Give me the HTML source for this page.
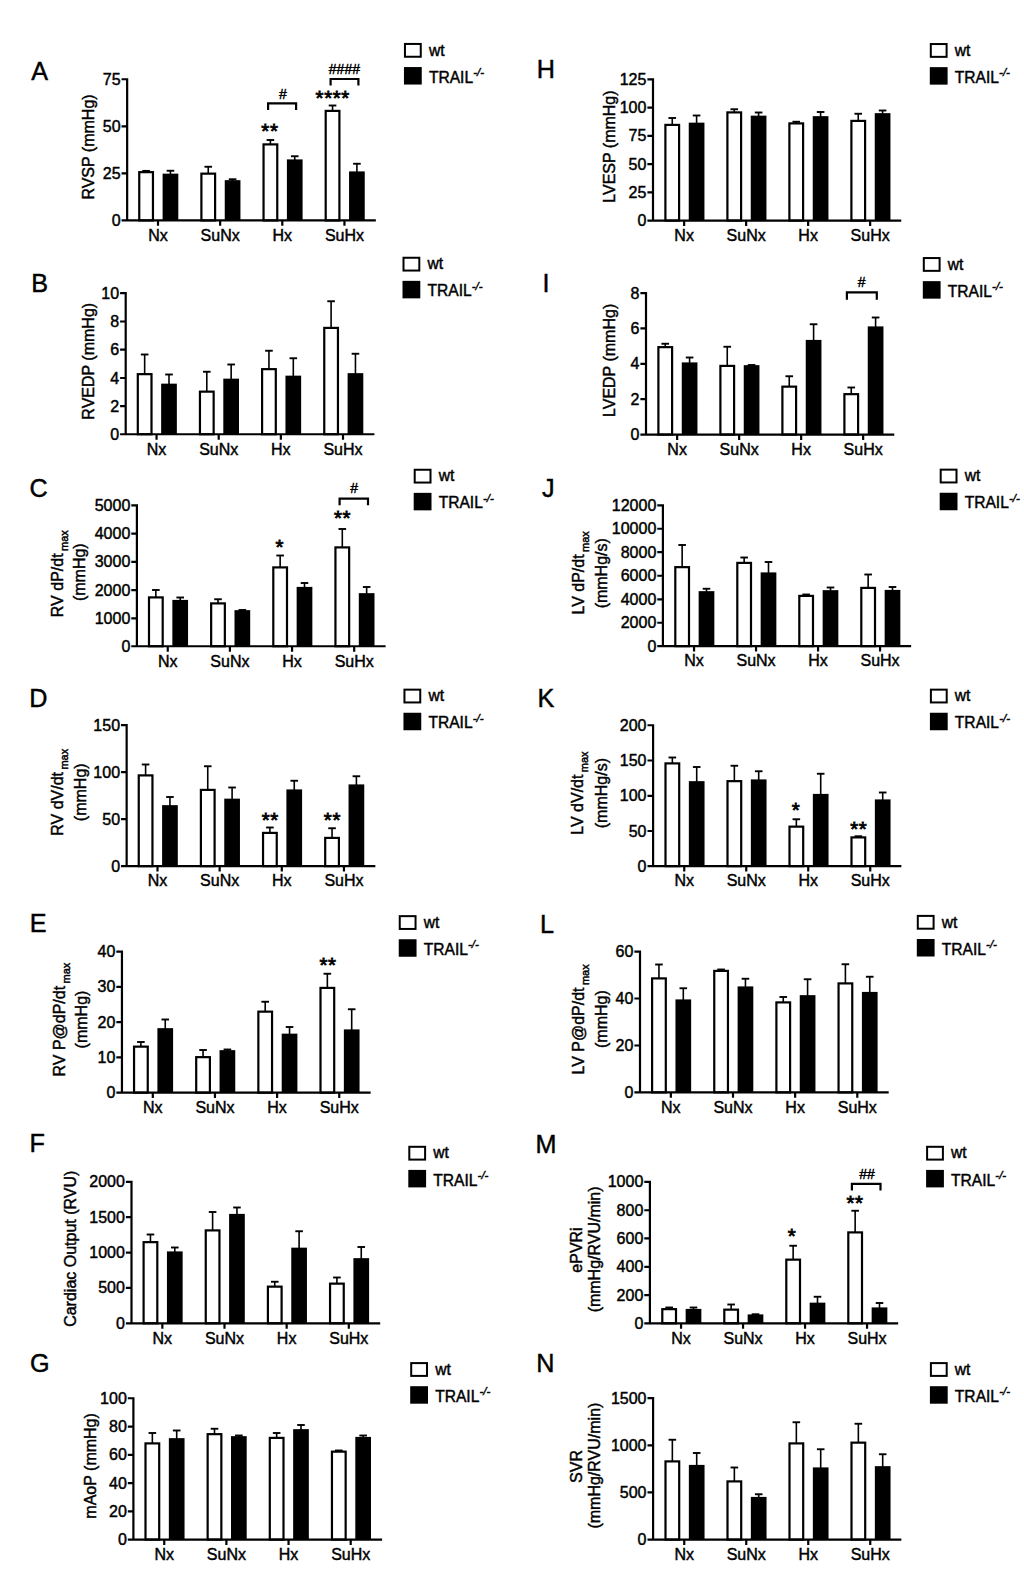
<!DOCTYPE html>
<html lang="en">
<head>
<meta charset="utf-8">
<title>Haemodynamic measurements: wt vs TRAIL-/- mice (panels A-N)</title>
<style>
html,body{margin:0;padding:0;background:#fff;}
body{width:1024px;height:1583px;overflow:hidden;}
svg{display:block;font-family:"Liberation Sans",sans-serif;fill:#000;}
svg text{font-size:16.0px;fill:#000;stroke:#000;stroke-width:0.45px;letter-spacing:0;}
.pl{font-size:25.2px;text-anchor:middle;letter-spacing:0;}
.yt{text-anchor:end;}
.xt{text-anchor:middle;}
.yl{text-anchor:middle;}
.lt{font-size:15.6px;}
.sub{font-size:11.0px;}
.sup{font-size:11.5px;font-style:italic;}
.st{font-size:20.5px;text-anchor:middle;letter-spacing:0.6px;stroke-width:0.8px !important;}
.hs{font-size:14.0px;text-anchor:middle;stroke-width:0.45px !important;}
.ax{fill:none;stroke:#000;stroke-width:2.2;}
.br{fill:none;stroke:#000;stroke-width:2.2;}
.eb{fill:none;stroke:#000;stroke-width:1.9;}
.es{fill:none;stroke:#000;stroke-width:1.6;}
.wb{fill:#fff;stroke:#000;stroke-width:2.2;}
.lg{stroke-width:2;}
.bb{fill:#000;stroke:none;}
</style>
</head>
<body>
<svg width="1024" height="1583" viewBox="0 0 1024 1583" role="img" aria-label="Bar charts A to N comparing wt and TRAIL knockout mice">
<rect x="0" y="0" width="1024" height="1583" fill="#fff" stroke="none"/>
<g class="panel" id="panel-A">
<text class="pl" x="39.7" y="80">A</text>
<path class="es" d="M146.1 172.75V170.9"/><path class="eb" d="M142.3 170.9H149.9"/>
<path class="es" d="M170.45 175.25V170.75"/><path class="eb" d="M166.65 170.75H174.25"/>
<rect class="wb" x="139.25" y="172.15" width="13.7" height="48.3"/>
<rect class="bb" x="162.6" y="173.65" width="15.7" height="46.8"/>
<path class="es" d="M208.25 174.25V166.75"/><path class="eb" d="M204.45 166.75H212.05"/>
<path class="es" d="M232.6 181.75V179.25"/><path class="eb" d="M228.8 179.25H236.4"/>
<rect class="wb" x="201.4" y="173.65" width="13.7" height="46.8"/>
<rect class="bb" x="224.75" y="180.15" width="15.7" height="40.3"/>
<path class="es" d="M270.4 145V140"/><path class="eb" d="M266.6 140H274.2"/>
<path class="es" d="M294.75 161V156.25"/><path class="eb" d="M290.95 156.25H298.55"/>
<rect class="wb" x="263.55" y="144.4" width="13.7" height="76.05"/>
<rect class="bb" x="286.9" y="159.4" width="15.7" height="61.05"/>
<path class="es" d="M332.55 111.5V105.5"/><path class="eb" d="M328.75 105.5H336.35"/>
<path class="es" d="M356.9 173V163.75"/><path class="eb" d="M353.1 163.75H360.7"/>
<rect class="wb" x="325.7" y="110.9" width="13.7" height="109.55"/>
<rect class="bb" x="349.05" y="171.4" width="15.7" height="49.05"/>
<path class="ax" d="M127.15 78.15V221.55M126.05 220.45H375.85M121.55 79.25H127.15M121.55 126.3H127.15M121.55 173.4H127.15M121.55 220.45H127.15M158 220.45V225.85M220.15 220.45V225.85M282.3 220.45V225.85M344.45 220.45V225.85"/>
<text class="yt" x="120.55" y="84.75">75</text>
<text class="yt" x="120.55" y="131.8">50</text>
<text class="yt" x="120.55" y="178.9">25</text>
<text class="yt" x="120.55" y="225.95">0</text>
<text class="xt" x="158" y="240.75">Nx</text>
<text class="xt" x="220.15" y="240.75">SuNx</text>
<text class="xt" x="282.3" y="240.75">Hx</text>
<text class="xt" x="344.45" y="240.75">SuHx</text>
<text class="yl" transform="translate(93.75 147) rotate(-90)">RVSP (mmHg)</text>
<rect class="wb lg" x="404.95" y="43.95" width="15.8" height="12.8"/>
<rect class="bb" x="403.95" y="67.05" width="17.8" height="17.5"/>
<text class="lt" x="428.9" y="55.55">wt</text>
<text class="lt" x="428.9" y="82.65">TRAIL<tspan class="sup" dx="0.1" dy="-6.6">-/-</tspan></text>
<text class="st" x="269.9" y="138">**</text>
<path class="br" d="M268.1 110V103.4H296.1V110"/>
<text class="hs" x="283" y="98.75">#</text>
<text class="st" x="332.75" y="105.4">****</text>
<path class="br" d="M330.6 85.6V79H358.4V85.6"/>
<text class="hs" x="344.4" y="73.75">####</text>
</g>
<g class="panel" id="panel-B">
<text class="pl" x="39.63" y="292">B</text>
<path class="es" d="M144.65 374.75V354.5"/><path class="eb" d="M140.85 354.5H148.45"/>
<path class="es" d="M169 385.25V374.5"/><path class="eb" d="M165.2 374.5H172.8"/>
<rect class="wb" x="137.8" y="374.15" width="13.7" height="60.1"/>
<rect class="bb" x="161.15" y="383.65" width="15.7" height="50.6"/>
<path class="es" d="M206.8 392.25V371.75"/><path class="eb" d="M203 371.75H210.6"/>
<path class="es" d="M231.15 380.25V364.5"/><path class="eb" d="M227.35 364.5H234.95"/>
<rect class="wb" x="199.95" y="391.65" width="13.7" height="42.6"/>
<rect class="bb" x="223.3" y="378.65" width="15.7" height="55.6"/>
<path class="es" d="M268.95 369.75V350.75"/><path class="eb" d="M265.15 350.75H272.75"/>
<path class="es" d="M293.3 377.25V358.25"/><path class="eb" d="M289.5 358.25H297.1"/>
<rect class="wb" x="262.1" y="369.15" width="13.7" height="65.1"/>
<rect class="bb" x="285.45" y="375.65" width="15.7" height="58.6"/>
<path class="es" d="M331.1 328.5V301.25"/><path class="eb" d="M327.3 301.25H334.9"/>
<path class="es" d="M355.45 374.75V353.75"/><path class="eb" d="M351.65 353.75H359.25"/>
<rect class="wb" x="324.25" y="327.9" width="13.7" height="106.35"/>
<rect class="bb" x="347.6" y="373.15" width="15.7" height="61.1"/>
<path class="ax" d="M125.7 292V435.35M124.6 434.25H374.4M120.1 293.1H125.7M120.1 321.5H125.7M120.1 349.7H125.7M120.1 378H125.7M120.1 406.2H125.7M120.1 434.25H125.7M156.55 434.25V439.65M218.7 434.25V439.65M280.85 434.25V439.65M343 434.25V439.65"/>
<text class="yt" x="119.1" y="298.6">10</text>
<text class="yt" x="119.1" y="327">8</text>
<text class="yt" x="119.1" y="355.2">6</text>
<text class="yt" x="119.1" y="383.5">4</text>
<text class="yt" x="119.1" y="411.7">2</text>
<text class="yt" x="119.1" y="439.75">0</text>
<text class="xt" x="156.55" y="454.55">Nx</text>
<text class="xt" x="218.7" y="454.55">SuNx</text>
<text class="xt" x="280.85" y="454.55">Hx</text>
<text class="xt" x="343" y="454.55">SuHx</text>
<text class="yl" transform="translate(93.5 361.25) rotate(-90)">RVEDP (mmHg)</text>
<rect class="wb lg" x="403.5" y="257.75" width="15.8" height="12.8"/>
<rect class="bb" x="402.5" y="280.85" width="17.8" height="17.5"/>
<text class="lt" x="427.45" y="269.35">wt</text>
<text class="lt" x="427.45" y="296.45">TRAIL<tspan class="sup" dx="0.1" dy="-6.6">-/-</tspan></text>
</g>
<g class="panel" id="panel-C">
<text class="pl" x="38.59" y="497">C</text>
<path class="es" d="M155.85 598V590"/><path class="eb" d="M152.05 590H159.65"/>
<path class="es" d="M180.2 601.5V597.5"/><path class="eb" d="M176.4 597.5H184"/>
<rect class="wb" x="149" y="597.4" width="13.7" height="48.85"/>
<rect class="bb" x="172.35" y="599.9" width="15.7" height="46.35"/>
<path class="es" d="M218 604V599.25"/><path class="eb" d="M214.2 599.25H221.8"/>
<path class="es" d="M242.35 611.75V610"/><path class="eb" d="M238.55 610H246.15"/>
<rect class="wb" x="211.15" y="603.4" width="13.7" height="42.85"/>
<rect class="bb" x="234.5" y="610.15" width="15.7" height="36.1"/>
<path class="es" d="M280.15 568V555.5"/><path class="eb" d="M276.35 555.5H283.95"/>
<path class="es" d="M304.5 588.5V583"/><path class="eb" d="M300.7 583H308.3"/>
<rect class="wb" x="273.3" y="567.4" width="13.7" height="78.85"/>
<rect class="bb" x="296.65" y="586.9" width="15.7" height="59.35"/>
<path class="es" d="M342.3 548V529"/><path class="eb" d="M338.5 529H346.1"/>
<path class="es" d="M366.65 594.75V587"/><path class="eb" d="M362.85 587H370.45"/>
<rect class="wb" x="335.45" y="547.4" width="13.7" height="98.85"/>
<rect class="bb" x="358.8" y="593.15" width="15.7" height="53.1"/>
<path class="ax" d="M136.9 504.25V647.35M135.8 646.25H385.6M131.3 505.35H136.9M131.3 533.7H136.9M131.3 561.9H136.9M131.3 590.2H136.9M131.3 618.35H136.9M131.3 646.25H136.9M167.75 646.25V651.65M229.9 646.25V651.65M292.05 646.25V651.65M354.2 646.25V651.65"/>
<text class="yt" x="130.3" y="510.85">5000</text>
<text class="yt" x="130.3" y="539.2">4000</text>
<text class="yt" x="130.3" y="567.4">3000</text>
<text class="yt" x="130.3" y="595.7">2000</text>
<text class="yt" x="130.3" y="623.85">1000</text>
<text class="yt" x="130.3" y="651.75">0</text>
<text class="xt" x="167.75" y="666.55">Nx</text>
<text class="xt" x="229.9" y="666.55">SuNx</text>
<text class="xt" x="292.05" y="666.55">Hx</text>
<text class="xt" x="354.2" y="666.55">SuHx</text>
<text class="yl" transform="translate(63.1 573.7) rotate(-90)">RV dP/dt<tspan class="sub" dx="2.4" dy="5">max</tspan></text>
<text class="yl" transform="translate(85 572.2) rotate(-90)">(mmHg)</text>
<rect class="wb lg" x="414.7" y="469.75" width="15.8" height="12.8"/>
<rect class="bb" x="413.7" y="492.85" width="17.8" height="17.5"/>
<text class="lt" x="438.65" y="481.35">wt</text>
<text class="lt" x="438.65" y="508.45">TRAIL<tspan class="sup" dx="0.1" dy="-6.6">-/-</tspan></text>
<text class="st" x="279.8" y="554.4">*</text>
<text class="st" x="342.6" y="524.75">**</text>
<path class="br" d="M339.6 505.2V498.7H368V505.2"/>
<text class="hs" x="354.1" y="493.4">#</text>
</g>
<g class="panel" id="panel-D">
<text class="pl" x="38.32" y="707">D</text>
<path class="es" d="M145.6 776V764.5"/><path class="eb" d="M141.8 764.5H149.4"/>
<path class="es" d="M169.95 806.75V797"/><path class="eb" d="M166.15 797H173.75"/>
<rect class="wb" x="138.75" y="775.4" width="13.7" height="90.75"/>
<rect class="bb" x="162.1" y="805.15" width="15.7" height="61"/>
<path class="es" d="M207.75 790.5V766.25"/><path class="eb" d="M203.95 766.25H211.55"/>
<path class="es" d="M232.1 800.25V787.5"/><path class="eb" d="M228.3 787.5H235.9"/>
<rect class="wb" x="200.9" y="789.9" width="13.7" height="76.25"/>
<rect class="bb" x="224.25" y="798.65" width="15.7" height="67.5"/>
<path class="es" d="M269.9 833.5V827.5"/><path class="eb" d="M266.1 827.5H273.7"/>
<path class="es" d="M294.25 791V780.75"/><path class="eb" d="M290.45 780.75H298.05"/>
<rect class="wb" x="263.05" y="832.9" width="13.7" height="33.25"/>
<rect class="bb" x="286.4" y="789.4" width="15.7" height="76.75"/>
<path class="es" d="M332.05 838.5V828.25"/><path class="eb" d="M328.25 828.25H335.85"/>
<path class="es" d="M356.4 786V776.25"/><path class="eb" d="M352.6 776.25H360.2"/>
<rect class="wb" x="325.2" y="837.9" width="13.7" height="28.25"/>
<rect class="bb" x="348.55" y="784.4" width="15.7" height="81.75"/>
<path class="ax" d="M126.65 724.1V867.25M125.55 866.15H375.35M121.05 725.2H126.65M121.05 772.2H126.65M121.05 819.15H126.65M121.05 866.15H126.65M157.5 866.15V871.55M219.65 866.15V871.55M281.8 866.15V871.55M343.95 866.15V871.55"/>
<text class="yt" x="120.05" y="730.7">150</text>
<text class="yt" x="120.05" y="777.7">100</text>
<text class="yt" x="120.05" y="824.65">50</text>
<text class="yt" x="120.05" y="871.65">0</text>
<text class="xt" x="157.5" y="886.45">Nx</text>
<text class="xt" x="219.65" y="886.45">SuNx</text>
<text class="xt" x="281.8" y="886.45">Hx</text>
<text class="xt" x="343.95" y="886.45">SuHx</text>
<text class="yl" transform="translate(62.5 792.25) rotate(-90)">RV dV/dt<tspan class="sub" dx="2.4" dy="5">max</tspan></text>
<text class="yl" transform="translate(86 792.25) rotate(-90)">(mmHg)</text>
<rect class="wb lg" x="404.45" y="689.65" width="15.8" height="12.8"/>
<rect class="bb" x="403.45" y="712.75" width="17.8" height="17.5"/>
<text class="lt" x="428.4" y="701.25">wt</text>
<text class="lt" x="428.4" y="728.35">TRAIL<tspan class="sup" dx="0.1" dy="-6.6">-/-</tspan></text>
<text class="st" x="270.25" y="826.9">**</text>
<text class="st" x="332.4" y="826.9">**</text>
</g>
<g class="panel" id="panel-E">
<text class="pl" x="38.11" y="931.75">E</text>
<path class="es" d="M140.9 1047.25V1042"/><path class="eb" d="M137.1 1042H144.7"/>
<path class="es" d="M165.25 1029.75V1019.5"/><path class="eb" d="M161.45 1019.5H169.05"/>
<rect class="wb" x="134.05" y="1046.65" width="13.7" height="46"/>
<rect class="bb" x="157.4" y="1028.15" width="15.7" height="64.5"/>
<path class="es" d="M203.05 1057.75V1050"/><path class="eb" d="M199.25 1050H206.85"/>
<path class="es" d="M227.4 1051.75V1049.5"/><path class="eb" d="M223.6 1049.5H231.2"/>
<rect class="wb" x="196.2" y="1057.15" width="13.7" height="35.5"/>
<rect class="bb" x="219.55" y="1050.15" width="15.7" height="42.5"/>
<path class="es" d="M265.2 1012.25V1001.75"/><path class="eb" d="M261.4 1001.75H269"/>
<path class="es" d="M289.55 1035.25V1027"/><path class="eb" d="M285.75 1027H293.35"/>
<rect class="wb" x="258.35" y="1011.65" width="13.7" height="81"/>
<rect class="bb" x="281.7" y="1033.65" width="15.7" height="59"/>
<path class="es" d="M327.35 988.5V973.75"/><path class="eb" d="M323.55 973.75H331.15"/>
<path class="es" d="M351.7 1031V1009.25"/><path class="eb" d="M347.9 1009.25H355.5"/>
<rect class="wb" x="320.5" y="987.9" width="13.7" height="104.75"/>
<rect class="bb" x="343.85" y="1029.4" width="15.7" height="63.25"/>
<path class="ax" d="M121.95 950.45V1093.75M120.85 1092.65H370.65M116.35 951.55H121.95M116.35 986.9H121.95M116.35 1022.15H121.95M116.35 1057.4H121.95M116.35 1092.65H121.95M152.8 1092.65V1098.05M214.95 1092.65V1098.05M277.1 1092.65V1098.05M339.25 1092.65V1098.05"/>
<text class="yt" x="115.35" y="957.05">40</text>
<text class="yt" x="115.35" y="992.4">30</text>
<text class="yt" x="115.35" y="1027.65">20</text>
<text class="yt" x="115.35" y="1062.9">10</text>
<text class="yt" x="115.35" y="1098.15">0</text>
<text class="xt" x="152.8" y="1112.95">Nx</text>
<text class="xt" x="214.95" y="1112.95">SuNx</text>
<text class="xt" x="277.1" y="1112.95">Hx</text>
<text class="xt" x="339.25" y="1112.95">SuHx</text>
<text class="yl" transform="translate(64.9 1019.6) rotate(-90)">RV P@dP/dt<tspan class="sub" dx="2.4" dy="5">max</tspan></text>
<text class="yl" transform="translate(87 1019.5) rotate(-90)">(mmHg)</text>
<rect class="wb lg" x="399.75" y="916.15" width="15.8" height="12.8"/>
<rect class="bb" x="398.75" y="939.25" width="17.8" height="17.5"/>
<text class="lt" x="423.7" y="927.75">wt</text>
<text class="lt" x="423.7" y="954.85">TRAIL<tspan class="sup" dx="0.1" dy="-6.6">-/-</tspan></text>
<text class="st" x="328" y="971.75">**</text>
</g>
<g class="panel" id="panel-F">
<text class="pl" x="37.22" y="1152">F</text>
<path class="es" d="M150.45 1242.75V1234.5"/><path class="eb" d="M146.65 1234.5H154.25"/>
<path class="es" d="M174.8 1253V1247.5"/><path class="eb" d="M171 1247.5H178.6"/>
<rect class="wb" x="143.6" y="1242.15" width="13.7" height="81.15"/>
<rect class="bb" x="166.95" y="1251.4" width="15.7" height="71.9"/>
<path class="es" d="M212.6 1231V1212"/><path class="eb" d="M208.8 1212H216.4"/>
<path class="es" d="M236.95 1215.5V1207.5"/><path class="eb" d="M233.15 1207.5H240.75"/>
<rect class="wb" x="205.75" y="1230.4" width="13.7" height="92.9"/>
<rect class="bb" x="229.1" y="1213.9" width="15.7" height="109.4"/>
<path class="es" d="M274.75 1287.25V1281.75"/><path class="eb" d="M270.95 1281.75H278.55"/>
<path class="es" d="M299.1 1249.25V1231.25"/><path class="eb" d="M295.3 1231.25H302.9"/>
<rect class="wb" x="267.9" y="1286.65" width="13.7" height="36.65"/>
<rect class="bb" x="291.25" y="1247.65" width="15.7" height="75.65"/>
<path class="es" d="M336.9 1284.25V1277.5"/><path class="eb" d="M333.1 1277.5H340.7"/>
<path class="es" d="M361.25 1259.75V1247"/><path class="eb" d="M357.45 1247H365.05"/>
<rect class="wb" x="330.05" y="1283.65" width="13.7" height="39.65"/>
<rect class="bb" x="353.4" y="1258.15" width="15.7" height="65.15"/>
<path class="ax" d="M131.5 1180.75V1324.4M130.4 1323.3H380.2M125.9 1181.85H131.5M125.9 1217.2H131.5M125.9 1252.55H131.5M125.9 1287.9H131.5M125.9 1323.3H131.5M162.35 1323.3V1328.7M224.5 1323.3V1328.7M286.65 1323.3V1328.7M348.8 1323.3V1328.7"/>
<text class="yt" x="124.9" y="1187.35">2000</text>
<text class="yt" x="124.9" y="1222.7">1500</text>
<text class="yt" x="124.9" y="1258.05">1000</text>
<text class="yt" x="124.9" y="1293.4">500</text>
<text class="yt" x="124.9" y="1328.8">0</text>
<text class="xt" x="162.35" y="1343.6">Nx</text>
<text class="xt" x="224.5" y="1343.6">SuNx</text>
<text class="xt" x="286.65" y="1343.6">Hx</text>
<text class="xt" x="348.8" y="1343.6">SuHx</text>
<text class="yl" transform="translate(75.75 1248.75) rotate(-90)">Cardiac Output (RVU)</text>
<rect class="wb lg" x="409.3" y="1146.8" width="15.8" height="12.8"/>
<rect class="bb" x="408.3" y="1169.9" width="17.8" height="17.5"/>
<text class="lt" x="433.25" y="1158.4">wt</text>
<text class="lt" x="433.25" y="1185.5">TRAIL<tspan class="sup" dx="0.1" dy="-6.6">-/-</tspan></text>
</g>
<g class="panel" id="panel-G">
<text class="pl" x="39.81" y="1372.25">G</text>
<path class="es" d="M152.35 1444V1433"/><path class="eb" d="M148.55 1433H156.15"/>
<path class="es" d="M176.7 1439.75V1430.5"/><path class="eb" d="M172.9 1430.5H180.5"/>
<rect class="wb" x="145.5" y="1443.4" width="13.7" height="96.2"/>
<rect class="bb" x="168.85" y="1438.15" width="15.7" height="101.45"/>
<path class="es" d="M214.5 1434.75V1428.75"/><path class="eb" d="M210.7 1428.75H218.3"/>
<path class="es" d="M238.85 1437.75V1435.5"/><path class="eb" d="M235.05 1435.5H242.65"/>
<rect class="wb" x="207.65" y="1434.15" width="13.7" height="105.45"/>
<rect class="bb" x="231" y="1436.15" width="15.7" height="103.45"/>
<path class="es" d="M276.65 1438.5V1433"/><path class="eb" d="M272.85 1433H280.45"/>
<path class="es" d="M301 1430.75V1425"/><path class="eb" d="M297.2 1425H304.8"/>
<rect class="wb" x="269.8" y="1437.9" width="13.7" height="101.7"/>
<rect class="bb" x="293.15" y="1429.15" width="15.7" height="110.45"/>
<path class="es" d="M338.8 1452.25V1450.5"/><path class="eb" d="M335 1450.5H342.6"/>
<path class="es" d="M363.15 1438.5V1435.5"/><path class="eb" d="M359.35 1435.5H366.95"/>
<rect class="wb" x="331.95" y="1451.65" width="13.7" height="87.95"/>
<rect class="bb" x="355.3" y="1436.9" width="15.7" height="102.7"/>
<path class="ax" d="M133.4 1397.15V1540.7M132.3 1539.6H382.1M127.8 1398.25H133.4M127.8 1426.6H133.4M127.8 1454.9H133.4M127.8 1483.1H133.4M127.8 1511.4H133.4M127.8 1539.6H133.4M164.25 1539.6V1545M226.4 1539.6V1545M288.55 1539.6V1545M350.7 1539.6V1545"/>
<text class="yt" x="126.8" y="1403.75">100</text>
<text class="yt" x="126.8" y="1432.1">80</text>
<text class="yt" x="126.8" y="1460.4">60</text>
<text class="yt" x="126.8" y="1488.6">40</text>
<text class="yt" x="126.8" y="1516.9">20</text>
<text class="yt" x="126.8" y="1545.1">0</text>
<text class="xt" x="164.25" y="1559.9">Nx</text>
<text class="xt" x="226.4" y="1559.9">SuNx</text>
<text class="xt" x="288.55" y="1559.9">Hx</text>
<text class="xt" x="350.7" y="1559.9">SuHx</text>
<text class="yl" transform="translate(96 1465.9) rotate(-90)">mAoP (mmHg)</text>
<rect class="wb lg" x="411.2" y="1363.1" width="15.8" height="12.8"/>
<rect class="bb" x="410.2" y="1386.2" width="17.8" height="17.5"/>
<text class="lt" x="435.15" y="1374.7">wt</text>
<text class="lt" x="435.15" y="1401.8">TRAIL<tspan class="sup" dx="0.1" dy="-6.6">-/-</tspan></text>
</g>
<g class="panel" id="panel-H">
<text class="pl" x="545.74" y="78.25">H</text>
<path class="es" d="M672.25 125.5V118"/><path class="eb" d="M668.45 118H676.05"/>
<path class="es" d="M696.6 124.25V115.5"/><path class="eb" d="M692.8 115.5H700.4"/>
<rect class="wb" x="665.4" y="124.9" width="13.7" height="95.65"/>
<rect class="bb" x="688.75" y="122.65" width="15.7" height="97.9"/>
<path class="es" d="M734.25 113V109.25"/><path class="eb" d="M730.45 109.25H738.05"/>
<path class="es" d="M758.6 117.25V112.5"/><path class="eb" d="M754.8 112.5H762.4"/>
<rect class="wb" x="727.4" y="112.4" width="13.7" height="108.15"/>
<rect class="bb" x="750.75" y="115.65" width="15.7" height="104.9"/>
<path class="es" d="M796.25 124V121.75"/><path class="eb" d="M792.45 121.75H800.05"/>
<path class="es" d="M820.6 117.75V112"/><path class="eb" d="M816.8 112H824.4"/>
<rect class="wb" x="789.4" y="123.4" width="13.7" height="97.15"/>
<rect class="bb" x="812.75" y="116.15" width="15.7" height="104.4"/>
<path class="es" d="M858.25 121.5V113.75"/><path class="eb" d="M854.45 113.75H862.05"/>
<path class="es" d="M882.6 114.75V110.5"/><path class="eb" d="M878.8 110.5H886.4"/>
<rect class="wb" x="851.4" y="120.9" width="13.7" height="99.65"/>
<rect class="bb" x="874.75" y="113.15" width="15.7" height="107.4"/>
<path class="ax" d="M653 78.25V221.65M651.9 220.55H901.25M647.4 79.35H653M647.4 107.7H653M647.4 135.9H653M647.4 164.2H653M647.4 192.35H653M647.4 220.55H653M684.15 220.55V225.95M746.15 220.55V225.95M808.15 220.55V225.95M870.15 220.55V225.95"/>
<text class="yt" x="646.4" y="84.85">125</text>
<text class="yt" x="646.4" y="113.2">100</text>
<text class="yt" x="646.4" y="141.4">75</text>
<text class="yt" x="646.4" y="169.7">50</text>
<text class="yt" x="646.4" y="197.85">25</text>
<text class="yt" x="646.4" y="226.05">0</text>
<text class="xt" x="684.15" y="240.85">Nx</text>
<text class="xt" x="746.15" y="240.85">SuNx</text>
<text class="xt" x="808.15" y="240.85">Hx</text>
<text class="xt" x="870.15" y="240.85">SuHx</text>
<text class="yl" transform="translate(615 146.6) rotate(-90)">LVESP (mmHg)</text>
<rect class="wb lg" x="930.8" y="44.05" width="15.8" height="12.8"/>
<rect class="bb" x="929.8" y="67.15" width="17.8" height="17.5"/>
<text class="lt" x="954.75" y="55.65">wt</text>
<text class="lt" x="954.75" y="82.75">TRAIL<tspan class="sup" dx="0.1" dy="-6.6">-/-</tspan></text>
</g>
<g class="panel" id="panel-I">
<text class="pl" x="546" y="291.75">I</text>
<path class="es" d="M665.25 347.75V343.75"/><path class="eb" d="M661.45 343.75H669.05"/>
<path class="es" d="M689.6 364V357.5"/><path class="eb" d="M685.8 357.5H693.4"/>
<rect class="wb" x="658.4" y="347.15" width="13.7" height="87.4"/>
<rect class="bb" x="681.75" y="362.4" width="15.7" height="72.15"/>
<path class="es" d="M727.25 366.5V346.75"/><path class="eb" d="M723.45 346.75H731.05"/>
<path class="es" d="M751.6 366.75V365"/><path class="eb" d="M747.8 365H755.4"/>
<rect class="wb" x="720.4" y="365.9" width="13.7" height="68.65"/>
<rect class="bb" x="743.75" y="365.15" width="15.7" height="69.4"/>
<path class="es" d="M789.25 387.25V376.25"/><path class="eb" d="M785.45 376.25H793.05"/>
<path class="es" d="M813.6 341.5V324.25"/><path class="eb" d="M809.8 324.25H817.4"/>
<rect class="wb" x="782.4" y="386.65" width="13.7" height="47.9"/>
<rect class="bb" x="805.75" y="339.9" width="15.7" height="94.65"/>
<path class="es" d="M851.25 394.75V387.5"/><path class="eb" d="M847.45 387.5H855.05"/>
<path class="es" d="M875.6 328V317.5"/><path class="eb" d="M871.8 317.5H879.4"/>
<rect class="wb" x="844.4" y="394.15" width="13.7" height="40.4"/>
<rect class="bb" x="867.75" y="326.4" width="15.7" height="108.15"/>
<path class="ax" d="M646 292.05V435.65M644.9 434.55H894.25M640.4 293.15H646M640.4 328.45H646M640.4 363.8H646M640.4 399.15H646M640.4 434.55H646M677.15 434.55V439.95M739.15 434.55V439.95M801.15 434.55V439.95M863.15 434.55V439.95"/>
<text class="yt" x="639.4" y="298.65">8</text>
<text class="yt" x="639.4" y="333.95">6</text>
<text class="yt" x="639.4" y="369.3">4</text>
<text class="yt" x="639.4" y="404.65">2</text>
<text class="yt" x="639.4" y="440.05">0</text>
<text class="xt" x="677.15" y="454.85">Nx</text>
<text class="xt" x="739.15" y="454.85">SuNx</text>
<text class="xt" x="801.15" y="454.85">Hx</text>
<text class="xt" x="863.15" y="454.85">SuHx</text>
<text class="yl" transform="translate(615 360.4) rotate(-90)">LVEDP (mmHg)</text>
<rect class="wb lg" x="923.8" y="258.05" width="15.8" height="12.8"/>
<rect class="bb" x="922.8" y="281.15" width="17.8" height="17.5"/>
<text class="lt" x="947.75" y="269.65">wt</text>
<text class="lt" x="947.75" y="296.75">TRAIL<tspan class="sup" dx="0.1" dy="-6.6">-/-</tspan></text>
<path class="br" d="M846.9 299.7V292.4H876.8V299.7"/>
<text class="hs" x="861.6" y="287.3">#</text>
</g>
<g class="panel" id="panel-J">
<text class="pl" x="548.24" y="497">J</text>
<path class="es" d="M682.15 567.75V545"/><path class="eb" d="M678.35 545H685.95"/>
<path class="es" d="M706.5 592.75V588.75"/><path class="eb" d="M702.7 588.75H710.3"/>
<rect class="wb" x="675.3" y="567.15" width="13.7" height="79"/>
<rect class="bb" x="698.65" y="591.15" width="15.7" height="55"/>
<path class="es" d="M744.15 563.5V557.5"/><path class="eb" d="M740.35 557.5H747.95"/>
<path class="es" d="M768.5 574V562"/><path class="eb" d="M764.7 562H772.3"/>
<rect class="wb" x="737.3" y="562.9" width="13.7" height="83.25"/>
<rect class="bb" x="760.65" y="572.4" width="15.7" height="73.75"/>
<path class="es" d="M806.15 596.5V594.5"/><path class="eb" d="M802.35 594.5H809.95"/>
<path class="es" d="M830.5 591.75V587.5"/><path class="eb" d="M826.7 587.5H834.3"/>
<rect class="wb" x="799.3" y="595.9" width="13.7" height="50.25"/>
<rect class="bb" x="822.65" y="590.15" width="15.7" height="56"/>
<path class="es" d="M868.15 588.5V574.5"/><path class="eb" d="M864.35 574.5H871.95"/>
<path class="es" d="M892.5 591.5V587"/><path class="eb" d="M888.7 587H896.3"/>
<rect class="wb" x="861.3" y="587.9" width="13.7" height="58.25"/>
<rect class="bb" x="884.65" y="589.9" width="15.7" height="56.25"/>
<path class="ax" d="M662.9 504.2V647.25M661.8 646.15H911.15M657.3 505.3H662.9M657.3 528.75H662.9M657.3 552.2H662.9M657.3 575.75H662.9M657.3 599.3H662.9M657.3 622.75H662.9M657.3 646.15H662.9M694.05 646.15V651.55M756.05 646.15V651.55M818.05 646.15V651.55M880.05 646.15V651.55"/>
<text class="yt" x="656.3" y="510.8">12000</text>
<text class="yt" x="656.3" y="534.25">10000</text>
<text class="yt" x="656.3" y="557.7">8000</text>
<text class="yt" x="656.3" y="581.25">6000</text>
<text class="yt" x="656.3" y="604.8">4000</text>
<text class="yt" x="656.3" y="628.25">2000</text>
<text class="yt" x="656.3" y="651.65">0</text>
<text class="xt" x="694.05" y="666.45">Nx</text>
<text class="xt" x="756.05" y="666.45">SuNx</text>
<text class="xt" x="818.05" y="666.45">Hx</text>
<text class="xt" x="880.05" y="666.45">SuHx</text>
<text class="yl" transform="translate(583.75 572.9) rotate(-90)">LV dP/dt<tspan class="sub" dx="2.4" dy="5">max</tspan></text>
<text class="yl" transform="translate(607 573.25) rotate(-90)">(mmHg/s)</text>
<rect class="wb lg" x="940.7" y="469.65" width="15.8" height="12.8"/>
<rect class="bb" x="939.7" y="492.75" width="17.8" height="17.5"/>
<text class="lt" x="964.65" y="481.25">wt</text>
<text class="lt" x="964.65" y="508.35">TRAIL<tspan class="sup" dx="0.1" dy="-6.6">-/-</tspan></text>
</g>
<g class="panel" id="panel-K">
<text class="pl" x="546.01" y="707">K</text>
<path class="es" d="M672.35 764V757.5"/><path class="eb" d="M668.55 757.5H676.15"/>
<path class="es" d="M696.7 782.75V767"/><path class="eb" d="M692.9 767H700.5"/>
<rect class="wb" x="665.5" y="763.4" width="13.7" height="102.75"/>
<rect class="bb" x="688.85" y="781.15" width="15.7" height="85"/>
<path class="es" d="M734.35 781.75V765.75"/><path class="eb" d="M730.55 765.75H738.15"/>
<path class="es" d="M758.7 781V771.25"/><path class="eb" d="M754.9 771.25H762.5"/>
<rect class="wb" x="727.5" y="781.15" width="13.7" height="85"/>
<rect class="bb" x="750.85" y="779.4" width="15.7" height="86.75"/>
<path class="es" d="M796.35 827.25V819.25"/><path class="eb" d="M792.55 819.25H800.15"/>
<path class="es" d="M820.7 795.5V773.75"/><path class="eb" d="M816.9 773.75H824.5"/>
<rect class="wb" x="789.5" y="826.65" width="13.7" height="39.5"/>
<rect class="bb" x="812.85" y="793.9" width="15.7" height="72.25"/>
<path class="es" d="M858.35 838V836.25"/><path class="eb" d="M854.55 836.25H862.15"/>
<path class="es" d="M882.7 801V792.5"/><path class="eb" d="M878.9 792.5H886.5"/>
<rect class="wb" x="851.5" y="837.4" width="13.7" height="28.75"/>
<rect class="bb" x="874.85" y="799.4" width="15.7" height="66.75"/>
<path class="ax" d="M653.1 724.15V867.25M652 866.15H901.35M647.5 725.25H653.1M647.5 760.5H653.1M647.5 795.8H653.1M647.5 831H653.1M647.5 866.15H653.1M684.25 866.15V871.55M746.25 866.15V871.55M808.25 866.15V871.55M870.25 866.15V871.55"/>
<text class="yt" x="646.5" y="730.75">200</text>
<text class="yt" x="646.5" y="766">150</text>
<text class="yt" x="646.5" y="801.3">100</text>
<text class="yt" x="646.5" y="836.5">50</text>
<text class="yt" x="646.5" y="871.65">0</text>
<text class="xt" x="684.25" y="886.45">Nx</text>
<text class="xt" x="746.25" y="886.45">SuNx</text>
<text class="xt" x="808.25" y="886.45">Hx</text>
<text class="xt" x="870.25" y="886.45">SuHx</text>
<text class="yl" transform="translate(582.5 793.1) rotate(-90)">LV dV/dt<tspan class="sub" dx="2.4" dy="5">max</tspan></text>
<text class="yl" transform="translate(606.5 793.1) rotate(-90)">(mmHg/s)</text>
<rect class="wb lg" x="930.9" y="689.65" width="15.8" height="12.8"/>
<rect class="bb" x="929.9" y="712.75" width="17.8" height="17.5"/>
<text class="lt" x="954.85" y="701.25">wt</text>
<text class="lt" x="954.85" y="728.35">TRAIL<tspan class="sup" dx="0.1" dy="-6.6">-/-</tspan></text>
<text class="st" x="796" y="816.9">*</text>
<text class="st" x="858.8" y="836.1">**</text>
</g>
<g class="panel" id="panel-L">
<text class="pl" x="546.99" y="932.5">L</text>
<path class="es" d="M658.95 979V964.5"/><path class="eb" d="M655.15 964.5H662.75"/>
<path class="es" d="M683.3 1001V988.25"/><path class="eb" d="M679.5 988.25H687.1"/>
<rect class="wb" x="652.1" y="978.4" width="13.7" height="114"/>
<rect class="bb" x="675.45" y="999.4" width="15.7" height="93"/>
<path class="es" d="M721.1 971.5V969.5"/><path class="eb" d="M717.3 969.5H724.9"/>
<path class="es" d="M745.45 988V978.75"/><path class="eb" d="M741.65 978.75H749.25"/>
<rect class="wb" x="714.25" y="970.9" width="13.7" height="121.5"/>
<rect class="bb" x="737.6" y="986.4" width="15.7" height="106"/>
<path class="es" d="M783.25 1003V997"/><path class="eb" d="M779.45 997H787.05"/>
<path class="es" d="M807.6 996.75V979.25"/><path class="eb" d="M803.8 979.25H811.4"/>
<rect class="wb" x="776.4" y="1002.4" width="13.7" height="90"/>
<rect class="bb" x="799.75" y="995.15" width="15.7" height="97.25"/>
<path class="es" d="M845.4 984V964.25"/><path class="eb" d="M841.6 964.25H849.2"/>
<path class="es" d="M869.75 993.5V976.75"/><path class="eb" d="M865.95 976.75H873.55"/>
<rect class="wb" x="838.55" y="983.4" width="13.7" height="109"/>
<rect class="bb" x="861.9" y="991.9" width="15.7" height="100.5"/>
<path class="ax" d="M640 950.5V1093.5M638.9 1092.4H888.7M634.4 951.6H640M634.4 998.5H640M634.4 1045.5H640M634.4 1092.4H640M670.85 1092.4V1097.8M733 1092.4V1097.8M795.15 1092.4V1097.8M857.3 1092.4V1097.8"/>
<text class="yt" x="633.4" y="957.1">60</text>
<text class="yt" x="633.4" y="1004">40</text>
<text class="yt" x="633.4" y="1051">20</text>
<text class="yt" x="633.4" y="1097.9">0</text>
<text class="xt" x="670.85" y="1112.7">Nx</text>
<text class="xt" x="733" y="1112.7">SuNx</text>
<text class="xt" x="795.15" y="1112.7">Hx</text>
<text class="xt" x="857.3" y="1112.7">SuHx</text>
<text class="yl" transform="translate(583.75 1019.4) rotate(-90)">LV P@dP/dt<tspan class="sub" dx="2.4" dy="5">max</tspan></text>
<text class="yl" transform="translate(607 1019.1) rotate(-90)">(mmHg)</text>
<rect class="wb lg" x="917.8" y="915.9" width="15.8" height="12.8"/>
<rect class="bb" x="916.8" y="939" width="17.8" height="17.5"/>
<text class="lt" x="941.75" y="927.5">wt</text>
<text class="lt" x="941.75" y="954.6">TRAIL<tspan class="sup" dx="0.1" dy="-6.6">-/-</tspan></text>
</g>
<g class="panel" id="panel-M">
<text class="pl" x="546" y="1152.5">M</text>
<path class="es" d="M669.15 1309.75V1307.5"/><path class="eb" d="M665.35 1307.5H672.95"/>
<path class="es" d="M693.5 1310.5V1307.5"/><path class="eb" d="M689.7 1307.5H697.3"/>
<rect class="wb" x="662.3" y="1309.15" width="13.7" height="14.15"/>
<rect class="bb" x="685.65" y="1308.9" width="15.7" height="14.4"/>
<path class="es" d="M731.15 1310.25V1304.5"/><path class="eb" d="M727.35 1304.5H734.95"/>
<path class="es" d="M755.5 1316V1314.25"/><path class="eb" d="M751.7 1314.25H759.3"/>
<rect class="wb" x="724.3" y="1309.65" width="13.7" height="13.65"/>
<rect class="bb" x="747.65" y="1314.4" width="15.7" height="8.9"/>
<path class="es" d="M793.15 1260.25V1245.75"/><path class="eb" d="M789.35 1245.75H796.95"/>
<path class="es" d="M817.5 1304.25V1296.75"/><path class="eb" d="M813.7 1296.75H821.3"/>
<rect class="wb" x="786.3" y="1259.65" width="13.7" height="63.65"/>
<rect class="bb" x="809.65" y="1302.65" width="15.7" height="20.65"/>
<path class="es" d="M855.15 1233V1210.75"/><path class="eb" d="M851.35 1210.75H858.95"/>
<path class="es" d="M879.5 1309V1303"/><path class="eb" d="M875.7 1303H883.3"/>
<rect class="wb" x="848.3" y="1232.4" width="13.7" height="90.9"/>
<rect class="bb" x="871.65" y="1307.4" width="15.7" height="15.9"/>
<path class="ax" d="M649.9 1180.8V1324.4M648.8 1323.3H898.15M644.3 1181.9H649.9M644.3 1210.25H649.9M644.3 1238.45H649.9M644.3 1266.8H649.9M644.3 1295.05H649.9M644.3 1323.3H649.9M681.05 1323.3V1328.7M743.05 1323.3V1328.7M805.05 1323.3V1328.7M867.05 1323.3V1328.7"/>
<text class="yt" x="643.3" y="1187.4">1000</text>
<text class="yt" x="643.3" y="1215.75">800</text>
<text class="yt" x="643.3" y="1243.95">600</text>
<text class="yt" x="643.3" y="1272.3">400</text>
<text class="yt" x="643.3" y="1300.55">200</text>
<text class="yt" x="643.3" y="1328.8">0</text>
<text class="xt" x="681.05" y="1343.6">Nx</text>
<text class="xt" x="743.05" y="1343.6">SuNx</text>
<text class="xt" x="805.05" y="1343.6">Hx</text>
<text class="xt" x="867.05" y="1343.6">SuHx</text>
<text class="yl" transform="translate(582.25 1250) rotate(-90)">ePVRi</text>
<text class="yl" transform="translate(600 1249.4) rotate(-90)">(mmHg/RVU/min)</text>
<rect class="wb lg" x="927.1" y="1146.8" width="15.8" height="12.8"/>
<rect class="bb" x="926.1" y="1169.9" width="17.8" height="17.5"/>
<text class="lt" x="951.05" y="1158.4">wt</text>
<text class="lt" x="951.05" y="1185.5">TRAIL<tspan class="sup" dx="0.1" dy="-6.6">-/-</tspan></text>
<text class="st" x="792.1" y="1243.1">*</text>
<text class="st" x="855.1" y="1210.25">**</text>
<path class="br" d="M851.9 1190.6V1183.9H880.5V1190.6"/>
<text class="hs" x="867.1" y="1179">##</text>
</g>
<g class="panel" id="panel-N">
<text class="pl" x="545.39" y="1371.75">N</text>
<path class="es" d="M672.35 1462V1439.75"/><path class="eb" d="M668.55 1439.75H676.15"/>
<path class="es" d="M696.7 1466.5V1453"/><path class="eb" d="M692.9 1453H700.5"/>
<rect class="wb" x="665.5" y="1461.4" width="13.7" height="78.2"/>
<rect class="bb" x="688.85" y="1464.9" width="15.7" height="74.7"/>
<path class="es" d="M734.35 1482V1467.5"/><path class="eb" d="M730.55 1467.5H738.15"/>
<path class="es" d="M758.7 1498.5V1494.25"/><path class="eb" d="M754.9 1494.25H762.5"/>
<rect class="wb" x="727.5" y="1481.4" width="13.7" height="58.2"/>
<rect class="bb" x="750.85" y="1496.9" width="15.7" height="42.7"/>
<path class="es" d="M796.35 1444V1422.25"/><path class="eb" d="M792.55 1422.25H800.15"/>
<path class="es" d="M820.7 1469V1449.25"/><path class="eb" d="M816.9 1449.25H824.5"/>
<rect class="wb" x="789.5" y="1443.4" width="13.7" height="96.2"/>
<rect class="bb" x="812.85" y="1467.4" width="15.7" height="72.2"/>
<path class="es" d="M858.35 1443.25V1423.75"/><path class="eb" d="M854.55 1423.75H862.15"/>
<path class="es" d="M882.7 1467.75V1454.25"/><path class="eb" d="M878.9 1454.25H886.5"/>
<rect class="wb" x="851.5" y="1442.65" width="13.7" height="96.95"/>
<rect class="bb" x="874.85" y="1466.15" width="15.7" height="73.45"/>
<path class="ax" d="M653.1 1397.1V1540.7M652 1539.6H901.35M647.5 1398.2H653.1M647.5 1445.3H653.1M647.5 1492.4H653.1M647.5 1539.6H653.1M684.25 1539.6V1545M746.25 1539.6V1545M808.25 1539.6V1545M870.25 1539.6V1545"/>
<text class="yt" x="646.5" y="1403.7">1500</text>
<text class="yt" x="646.5" y="1450.8">1000</text>
<text class="yt" x="646.5" y="1497.9">500</text>
<text class="yt" x="646.5" y="1545.1">0</text>
<text class="xt" x="684.25" y="1559.9">Nx</text>
<text class="xt" x="746.25" y="1559.9">SuNx</text>
<text class="xt" x="808.25" y="1559.9">Hx</text>
<text class="xt" x="870.25" y="1559.9">SuHx</text>
<text class="yl" transform="translate(581.5 1466.5) rotate(-90)">SVR</text>
<text class="yl" transform="translate(600 1465.6) rotate(-90)">(mmHg/RVU/min)</text>
<rect class="wb lg" x="930.9" y="1363.1" width="15.8" height="12.8"/>
<rect class="bb" x="929.9" y="1386.2" width="17.8" height="17.5"/>
<text class="lt" x="954.85" y="1374.7">wt</text>
<text class="lt" x="954.85" y="1401.8">TRAIL<tspan class="sup" dx="0.1" dy="-6.6">-/-</tspan></text>
</g>
</svg>
</body>
</html>
